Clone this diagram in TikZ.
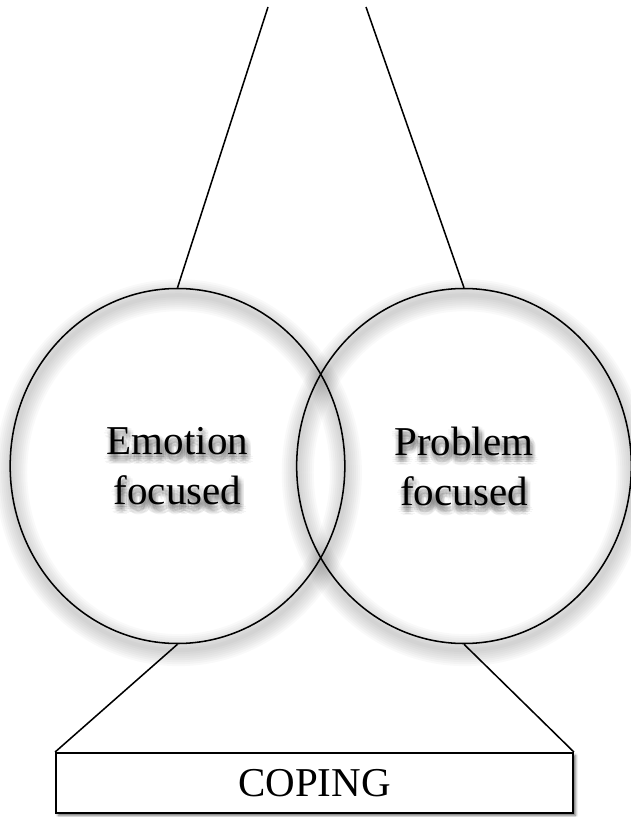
\documentclass[tikz,border=0pt]{standalone}
\usepackage{fontspec}
\setmainfont{Liberation Serif}
\usetikzlibrary{shapes.geometric,shadows.blur}

\begin{document}
\begin{tikzpicture}[x=0.75pt,y=-0.75pt,
  ring/.style={ellipse, draw=black, line width=1.15pt, minimum width=251pt,
    minimum height=266.25pt, inner sep=0pt},
  ringshade/.style={draw=black, draw opacity=0.022},
  lbl/.style={font=\fontsize{30.75}{37.5}\selectfont, align=center, inner sep=0pt},
  ghost/.style={lbl, text=black, opacity=0.045},
  link/.style={draw=black, line width=1.15pt},
  basebox/.style={rectangle, draw=black, line width=1.4pt, minimum width=387.75pt,
    minimum height=45pt, inner sep=0pt, fill=white,
    blur shadow={shadow xshift=1.8pt, shadow yshift=-1.8pt,
      shadow blur radius=2pt, shadow opacity=60}},
  ]
\useasboundingbox (0,0) rectangle (631,817);

% centres of the two rings
\coordinate (emoc)  at (177.5,466);
\coordinate (probc) at (464,466);

% soft blurred shadow of each ring outline, dropped slightly downwards
\foreach \n in {emoc,probc}
  \foreach \w in {3,6,...,24}
    \draw[ringshade, line width=\w pt]
      ([xshift=0.8pt, yshift=-5pt]\n) ellipse [x radius=125.5pt, y radius=133.1pt];

% the two overlapping rings
\node[ring] (emo)  at (emoc)  {};
\node[ring] (prob) at (probc) {};

% blurred drop shadow under the ring labels
\foreach \a in {0,30,...,330}
  \foreach \r in {1.5,3.5} {
    \node[ghost, xshift={1pt+\r*cos(\a)*1pt}, yshift={-4pt+\r*sin(\a)*1pt}] at (emo)  {Emotion\\focused};
    \node[ghost, xshift={1pt+\r*cos(\a)*1pt}, yshift={-4pt+\r*sin(\a)*1pt}] at (prob) {Problem\\focused};
  }

\node[lbl] (emotxt)  at (emo)  {Emotion\\focused};
\node[lbl] (probtxt) at (prob) {Problem\\focused};

% base box
\node[basebox, font=\fontsize{30.75}{37.5}\selectfont] (coping) at (314.5,783) {COPING};

% connectors
\coordinate (topL) at (268,7);
\coordinate (topR) at (366,7);
\draw[link] (topL) -- (emo.north);
\draw[link] (topR) -- (prob.north);
\draw[link] (emo.south) -- (coping.north west);
\draw[link] (prob.south) -- (coping.north east);
\end{tikzpicture}
\end{document}
